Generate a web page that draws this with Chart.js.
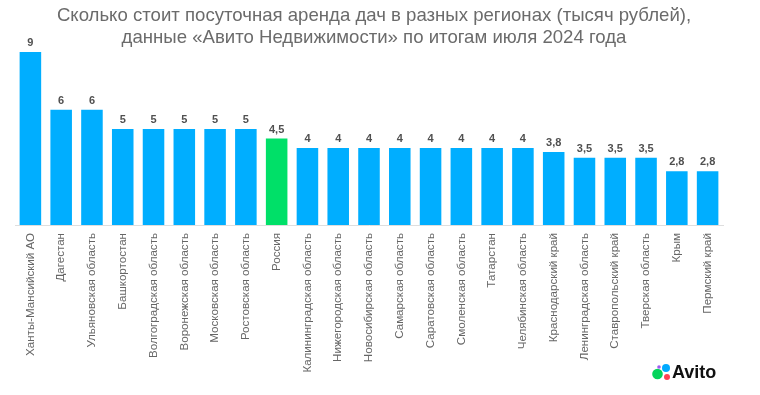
<!DOCTYPE html>
<html lang="ru">
<head>
<meta charset="utf-8">
<script src="https://cdn.jsdelivr.net/npm/chart.js@4"></script>
<style>
html,body{margin:0;padding:0;background:#fff;width:760px;height:395px;overflow:hidden}
#w{position:relative;width:760px;height:395px}
canvas{display:block;filter:blur(0.45px)}
</style>
</head>
<body>
<div id="w"><canvas id="c" width="760" height="395"></canvas></div>
<script>
const categories = ["Ханты-Мансийский АО","Дагестан","Ульяновская область","Башкортостан","Волгоградская область","Воронежская область","Московская область","Ростовская область","Россия","Калининградская область","Нижегородская область","Новосибирская область","Самарская область","Саратовская область","Смоленская область","Татарстан","Челябинская область","Краснодарский край","Ленинградская область","Ставропольский край","Тверская область","Крым","Пермский край"];
const values = [9,6,6,5,5,5,5,5,4.5,4,4,4,4,4,4,4,4,3.8,3.5,3.5,3.5,2.8,2.8];
const valueLabels = ["9","6","6","5","5","5","5","5","4,5","4","4","4","4","4","4","4","4","3,8","3,5","3,5","3,5","2,8","2,8"];
const highlighted = "Россия";
const titleLines = ["Сколько стоит посуточная аренда дач в разных регионах (тысяч рублей),","данные «Авито Недвижимости» по итогам июля 2024 года"];
const FONT = '"Liberation Sans", Arial, sans-serif';

const titleShiftPlugin = {
  id:'titleShift',
  beforeDraw(chart){ chart.titleBlock.left = chart.titleBlock.right - 698; }
};
const valueLabelPlugin = {
  id:'valueLabels',
  afterDatasetsDraw(chart){
    const {ctx} = chart, meta = chart.getDatasetMeta(0);
    ctx.save();
    ctx.font = 'bold 11px '+FONT;
    ctx.fillStyle = '#505050';
    ctx.textAlign = 'center';
    ctx.textBaseline = 'alphabetic';
    meta.data.forEach((b,i)=>ctx.fillText(valueLabels[i], b.x, b.y-6));
    ctx.restore();
  }
};
const logoPlugin = {
  id:'logo',
  afterDraw(chart){
    const {ctx} = chart;
    ctx.save();
    [[657.5,374,5.3,'#04d45b'],[666,368,4,'#00aaff'],[667,377,3,'#ff4053'],[659,367,1.8,'#9b5cf0']].forEach(([x,y,r,col])=>{
      ctx.beginPath();ctx.arc(x,y,r,0,Math.PI*2);ctx.fillStyle=col;ctx.fill();
    });
    ctx.font='bold 18px '+FONT;
    ctx.fillStyle='#111';
    ctx.textAlign='left';
    ctx.textBaseline='alphabetic';
    ctx.fillText('Avito',672,378);
    ctx.restore();
  }
};

new Chart(document.getElementById('c'),{
  type:'bar',
  data:{labels:categories,datasets:[{
    data:values,
    backgroundColor:categories.map(c=>c===highlighted?'#00e068':'#00aeff'),
    barPercentage:0.7,categoryPercentage:1
  }]},
  plugins:[titleShiftPlugin,valueLabelPlugin,logoPlugin],
  options:{
    responsive:false,animation:false,
    layout:{padding:{left:15,right:37,top:0,bottom:0}},
    plugins:{
      legend:{display:false},tooltip:{enabled:false},
      title:{display:true,text:titleLines,color:'#6b6b6b',
        font:{family:FONT,size:18.6,weight:'normal',lineHeight:22/18.6},
        padding:{top:5,bottom:3}}
    },
    scales:{
      y:{display:false,min:0,max:9},
      x:{
        grid:{display:false,drawTicks:false},
        border:{display:true,color:'#dedede',width:1},
        afterFit(s){s.height=170},
        ticks:{autoSkip:false,minRotation:90,maxRotation:90,padding:8,color:'#666',
          font:{family:FONT,size:11.6}}
      }
    }
  }
});
</script>
</body>
</html>
